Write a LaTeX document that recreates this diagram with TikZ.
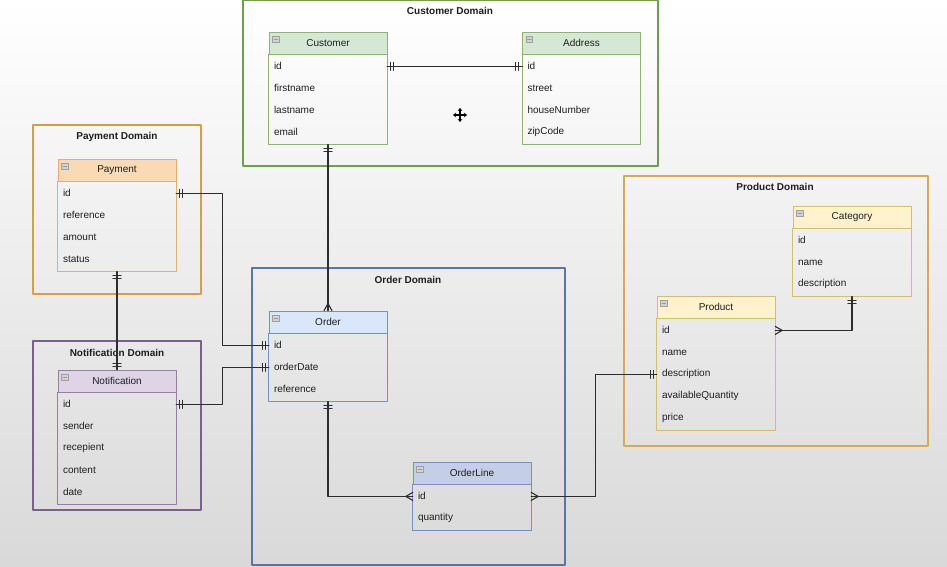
\documentclass[tikz,border=0pt]{standalone}
\usepackage{fontspec}
\setmainfont{Liberation Sans}
\usepackage{xcolor}
\usepackage{tikz}
\usetikzlibrary{arrows.meta,calc,positioning}
\definecolor{CustDom}{RGB}{108,160,78}
\definecolor{CustFill}{RGB}{213,232,212}
\definecolor{CustLine}{RGB}{140,180,115}
\definecolor{PayDom}{RGB}{214,160,62}
\definecolor{PayFill}{RGB}{250,218,180}
\definecolor{PayLine}{RGB}{226,176,110}
\definecolor{NotiDom}{RGB}{122,96,140}
\definecolor{NotiFill}{RGB}{222,212,230}
\definecolor{NotiLine}{RGB}{150,125,165}
\definecolor{OrdDom}{RGB}{92,116,168}
\definecolor{OrdFill}{RGB}{218,230,250}
\definecolor{OlFill}{RGB}{196,207,230}
\definecolor{OrdLine}{RGB}{120,145,188}
\definecolor{ProdDom}{RGB}{212,172,82}
\definecolor{ProdFill}{RGB}{255,242,204}
\definecolor{ProdLine}{RGB}{214,188,110}
\definecolor{ConnGray}{RGB}{45,45,45}
\definecolor{TxtGray}{RGB}{30,30,30}

% ER crow's foot notation
\pgfdeclarearrow{
  name = ERone,
  setup code = {
    \pgfarrowssettipend{0pt}
    \pgfarrowssetlineend{0pt}
    \pgfarrowssetbackend{-8pt}
    \pgfarrowssetvisualbackend{-8pt}
    \pgfarrowshullpoint{0pt}{4pt}
    \pgfarrowshullpoint{0pt}{-4pt}
    \pgfarrowshullpoint{-8pt}{4pt}
    \pgfarrowshullpoint{-8pt}{-4pt}
  },
  drawing code = {
    \pgfpathmoveto{\pgfqpoint{-3.5pt}{-4pt}}
    \pgfpathlineto{\pgfqpoint{-3.5pt}{4pt}}
    \pgfpathmoveto{\pgfqpoint{-6.5pt}{-4pt}}
    \pgfpathlineto{\pgfqpoint{-6.5pt}{4pt}}
    \pgfusepathqstroke
  }
}
\pgfdeclarearrow{
  name = ERmany,
  setup code = {
    \pgfarrowssettipend{0pt}
    \pgfarrowssetlineend{0pt}
    \pgfarrowssetbackend{-7pt}
    \pgfarrowssetvisualbackend{-7pt}
    \pgfarrowshullpoint{0pt}{4pt}
    \pgfarrowshullpoint{0pt}{-4pt}
    \pgfarrowshullpoint{-7pt}{0pt}
  },
  drawing code = {
    \pgfpathmoveto{\pgfqpoint{0pt}{4pt}}
    \pgfpathlineto{\pgfqpoint{-7pt}{0pt}}
    \pgfpathlineto{\pgfqpoint{0pt}{-4pt}}
    \pgfusepathqstroke
  }
}

\tikzset{
  domframe/.style ={line width=2.6pt, solid},
  domtitle/.style ={font=\bfseries\fontsize{10}{12}\selectfont, text=TxtGray},
  enthead/.style 2 args={draw=#2, fill=#1, line width=0.8pt, minimum width=118pt,
                   minimum height=22pt, inner sep=0pt, text=TxtGray,
                   font=\fontsize{10}{12}\selectfont},
  entrow/.style   ={minimum height=22pt, text width=108pt, inner xsep=5pt, inner ysep=0pt,
                   align=left, text=TxtGray, font=\fontsize{10}{12}\selectfont},
  conn/.style     ={draw=ConnGray, line width=1.1pt},
}

% name, position, title, fill, line, fields
\newcommand{\erentity}[6]{%
  \node[enthead={#4}{#5}] (#1) at (#2) {#3};
  \foreach \f [count=\i] in {#6} {
    \pgfmathsetmacro{\dy}{-12-22*(\i-1)}
    \node[entrow] (#1-\f) at ([yshift=\dy pt]#1.south) {\f};
    \xdef\lastrow{#1-\f}
  }
  \draw[draw=#5, line width=0.8pt] (#1.south west) rectangle ([yshift=-1pt]\lastrow.south east);
  \draw[fill=gray!35, draw=gray!75, line width=0.4pt]
    ([shift={(4,4.5)}]#1.north west) rectangle ++(6.5,6);
  \draw[gray!80, line width=0.5pt] ([shift={(5.3,7.5)}]#1.north west) -- ++(3.9,0);
}

\begin{document}
\begin{tikzpicture}[
  x=1pt,y=-1pt,
  >=Stealth,
  line cap=round,
  line join=round
]
\useasboundingbox (0,0) rectangle (947,567);

% --- Background ----------------------------------------------------------
\shade[top color=white, middle color=gray!6, bottom color=gray!30]
  (0,0) rectangle (947,567);

% --- Domains -------------------------------------------------------------
\draw[domframe, draw=CustDom] (243,0) rectangle (658,166);
\draw[domframe, draw=PayDom]  (33,125) rectangle (201,294);
\draw[domframe, draw=NotiDom] (33,341) rectangle (201,510);
\draw[domframe, draw=OrdDom]  (252,268) rectangle (565,565);
\draw[domframe, draw=ProdDom] (624,176) rectangle (928,446);

\node[domtitle] (custdom) at (450,11)  {Customer Domain};
\node[domtitle] (paydom)  at (117,137) {Payment Domain};
\node[domtitle] (notidom) at (117,353) {Notification Domain};
\node[domtitle] (orddom)  at (408,280) {Order Domain};
\node[domtitle] (proddom) at (775,187) {Product Domain};

% --- Entities ------------------------------------------------------------
\erentity{cust}{328,43}{Customer}{CustFill}{CustLine}{id,firstname,lastname,email}
\erentity{addr}{581.5,43}{Address}{CustFill}{CustLine}{id,street,houseNumber,zipCode}
\erentity{pay}{117,170}{Payment}{PayFill}{PayLine}{id,reference,amount,status}
\erentity{noti}{117,381}{Notification}{NotiFill}{NotiLine}{id,sender,recepient,content,date}
\erentity{ord}{328,322}{Order}{OrdFill}{OrdLine}{id,orderDate,reference}
\erentity{ol}{472,473}{OrderLine}{OlFill}{OrdLine}{id,quantity}
\erentity{cat}{852,217}{Category}{ProdFill}{ProdLine}{id,name,description}
\erentity{prod}{716,307}{Product}{ProdFill}{ProdLine}{id,name,description,availableQuantity,price}

% --- Relations -----------------------------------------------------------
\draw[conn, ERone-ERone]  (cust-id.east) -- (addr-id.west);
\draw[conn, ERone-ERmany] ([yshift=-1pt]cust-email.south) -- (ord.north);
\draw[conn, ERone-ERone]  ([yshift=-1pt]pay-status.south) -- (noti.north);
\draw[conn, ERone-ERone]  (pay-id.east) -- ++(46,0) |- (ord-id.west);
\draw[conn, ERone-ERone]  (noti-id.east) -- ++(46,0) |- (ord-orderDate.west);
\draw[conn, ERone-ERmany] ([yshift=-1pt]ord-reference.south) |- (ol-id.west);
\draw[conn, ERmany-ERone] (ol-id.east) -- ++(64,0) |- (prod-description.west);
\draw[conn, ERmany-ERone] (prod-id.east) -| ([yshift=-1pt]cat-description.south);

% --- Move cursor ---------------------------------------------------------
\coordinate (cursor) at (460,115);
\foreach \dx/\dy in {7/0,-7/0,0/7,0/-7}
  \draw[line width=1.5pt, -{Stealth[length=3pt,width=4.5pt]}] (cursor) -- ++(\dx,\dy);

\end{tikzpicture}
\end{document}
